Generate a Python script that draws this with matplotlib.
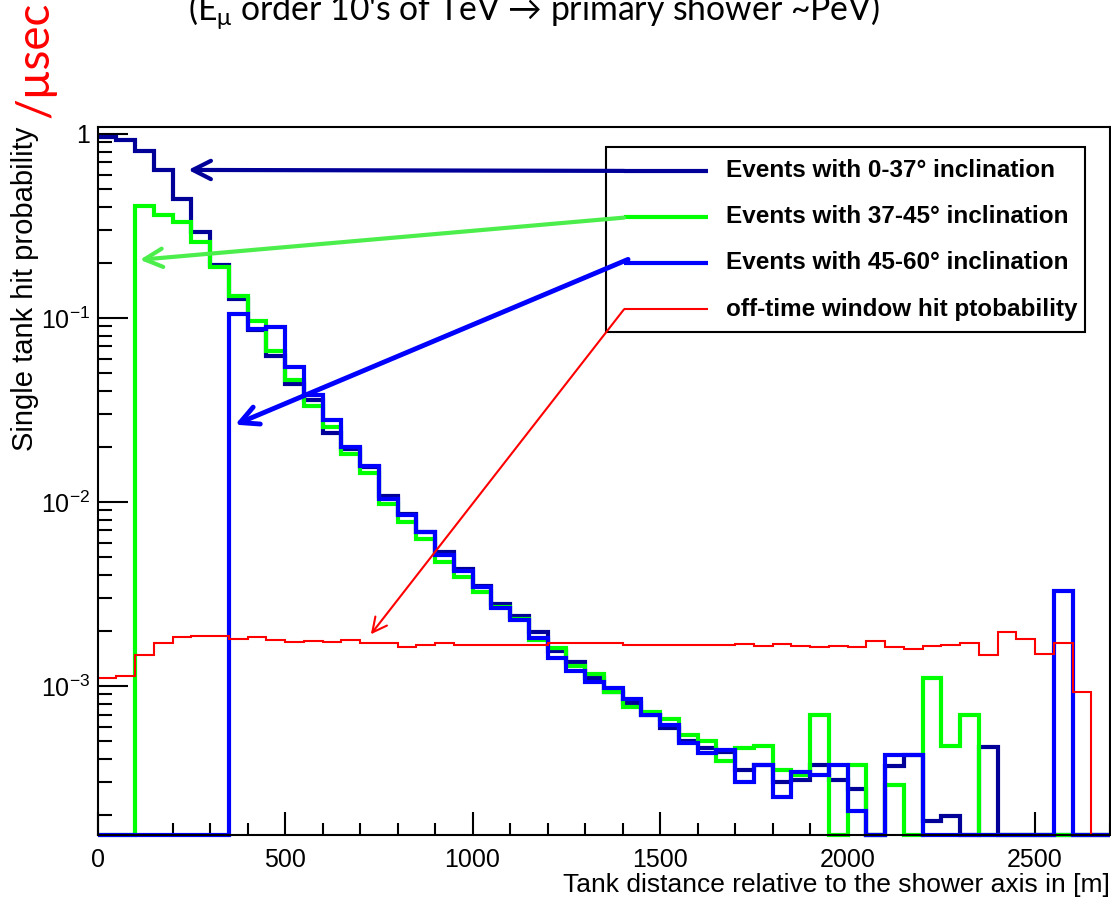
import numpy as np
import matplotlib
matplotlib.use("Agg")
import matplotlib.pyplot as plt
from matplotlib.ticker import MultipleLocator, FixedLocator, FixedFormatter, LogLocator, NullFormatter
from matplotlib.patches import Rectangle

plt.rcParams['font.family'] = ['Liberation Sans', 'DejaVu Sans']
plt.rcParams['mathtext.fontset'] = 'custom'
plt.rcParams['mathtext.rm'] = 'Liberation Sans'
plt.rcParams['mathtext.it'] = 'Liberation Sans:italic'
plt.rcParams['mathtext.bf'] = 'Liberation Sans:bold'
plt.rcParams['mathtext.default'] = 'regular'

# ---------------- data ----------------
bin_edges = np.arange(0, 2701, 50)   # 54 bins of 50 m

incl_0_37 = [0.96, 0.93, 0.81, 0.637, 0.445, 0.293, 0.193, 0.127, 0.086, 0.062,
             0.0437, 0.036, 0.0237, 0.0195, 0.0155, 0.0108, 0.0086, 0.0069, 0.00532, 0.0043,
             0.0035, 0.0028, 0.00239, 0.00197, 0.00154, 0.00135, 0.00110, 0.00093, 0.00081, 0.00070,
             0.00059, 0.00050, 0.00046, 0.00044, 0.00035, 0.00037, 0.00030, 0.00031, 0.00037, 0.00031,
             0.000275, 0, 0.000366, 0.00042, 0.000184, 0.000197, 0, 0.000465, 0, 0,
             0, 0, 0, 0]

incl_37_45 = [0, 0, 0.406, 0.363, 0.334, 0.257, 0.19, 0.132, 0.0967, 0.066,
              0.0459, 0.0331, 0.0255, 0.0183, 0.0143, 0.0098, 0.0078, 0.0063, 0.00474, 0.00393,
              0.00326, 0.0027, 0.0023, 0.00178, 0.00160, 0.00129, 0.00116, 0.00093, 0.00077, 0.00072,
              0.00066, 0.00054, 0.00050, 0.00039, 0.00046, 0.00047, 0.00035, 0.00033, 0.00070, 0,
              0.00037, 0, 0.00029, 0, 0.00111, 0.00047, 0.00070, 0, 0, 0,
              0, 0, 0, 0]

incl_45_60 = [0, 0, 0, 0, 0, 0, 0, 0.105, 0.087, 0.089,
              0.054, 0.038, 0.0279, 0.0199, 0.0157, 0.0104, 0.0085, 0.0069, 0.00516, 0.00422,
              0.00344, 0.00265, 0.00227, 0.00183, 0.00142, 0.00121, 0.00105, 0.00097, 0.00085, 0.00070,
              0.00061, 0.00049, 0.00043, 0.00045, 0.00030, 0.00037, 0.00025, 0.00034, 0.00033, 0.00037,
              0.00021, 0, 0.00042, 0.00042, 0, 0, 0, 0, 0, 0,
              0, 0.0033, 0, 0]

off_time = [0.00111, 0.00113, 0.00148, 0.00172, 0.00184, 0.00187, 0.00187, 0.00180, 0.00184, 0.00178,
            0.00173, 0.00175, 0.00173, 0.00178, 0.00171, 0.00171, 0.00162, 0.00168, 0.00171, 0.00167,
            0.00167, 0.00167, 0.00167, 0.00167, 0.00171, 0.00171, 0.00171, 0.00171, 0.00168, 0.00167,
            0.00167, 0.00167, 0.00167, 0.00167, 0.00169, 0.00165, 0.00169, 0.00165, 0.00162, 0.00165,
            0.00162, 0.00175, 0.00162, 0.00158, 0.00165, 0.00167, 0.00171, 0.00148, 0.00197, 0.00180,
            0.00150, 0.00171, 0.00093, 0]

series_labels = ["Events with 0-37° inclination",
                 "Events with 37-45° inclination",
                 "Events with 45-60° inclination",
                 "off-time window hit ptobability"]
series_colors = ["#000099", "#00ff00", "#0000ff", "#ff0000"]
arrow_colors = ["#000099", "#4cee4c", "#0000ff", "#ff0000"]
# arrow tips (distance [m], probability)
arrow_tip_x = [242, 113, 367, 729]
arrow_tip_y = [0.637, 0.207, 0.0263, 0.00191]

xticks = [0, 500, 1000, 1500, 2000, 2500]
yticks = [1e-3, 1e-2, 1e-1, 1]
ytick_labels = ["10$^{-3}$", "10$^{-2}$", "10$^{-1}$", "1"]

# ---------------- figure ----------------
W, H = 1111, 898
fig = plt.figure(figsize=(W / 100, H / 100), dpi=100)
ax = fig.add_axes([97.5 / W, 1 - 835 / H, (1110 - 97.5) / W, (835 - 127) / H])
ax.set_yscale('log')
ymin, ymax = 1.55e-4, 1.09
ax.set_xlim(0, 2700)
ax.set_ylim(ymin, ymax)

series = [incl_0_37, incl_37_45, incl_45_60, off_time]
widths = [3.0, 3.0, 3.0, 1.5]
for k, (vals, col, lw) in enumerate(zip(series, series_colors, widths)):
    v = np.asarray(vals, float)
    v = np.where(v > 0, v, ymin)
    ax.stairs(v, bin_edges, baseline=None, color=col, lw=lw, clip_on=False, zorder=2 + k)

# axes styling
for s in ax.spines.values():
    s.set_linewidth(1.5)
    s.set_zorder(10)
ax.xaxis.set_major_locator(FixedLocator(xticks))
ax.xaxis.set_minor_locator(MultipleLocator(100))
ax.yaxis.set_major_locator(FixedLocator(yticks))
ax.yaxis.set_major_formatter(FixedFormatter(ytick_labels))
ax.yaxis.set_minor_locator(LogLocator(base=10, subs=np.arange(2, 10)))
ax.yaxis.set_minor_formatter(NullFormatter())
ax.tick_params(which='both', direction='in', top=False, right=False, width=1.5, labelsize=18)
ax.tick_params(axis='x', which='major', length=16.5, pad=9.5)
ax.tick_params(axis='x', which='minor', length=8.5)
ax.tick_params(axis='y', which='major', length=21.5, pad=5.5)
ax.tick_params(axis='y', which='minor', length=10)

ax.set_xlabel("Tank distance relative to the shower axis in [m]", fontsize=19, loc='right')
ax.xaxis.set_label_coords(1.0, -0.054)
ax.set_ylabel("Single tank hit probability", fontsize=21, loc='top')
ax.yaxis.set_label_coords(-0.058, 1.0)

# legend box (drawn manually, ROOT style)
rows = [0.938, 0.873, 0.808, 0.7425]
ax.add_patch(Rectangle((0.502, 0.710), 0.473, 0.262, transform=ax.transAxes,
                       facecolor='white', edgecolor='black', lw=1.5, zorder=6))
for lab, col, lw, r in zip(series_labels, series_colors, widths, rows):
    ax.plot([0.520, 0.603], [r, r], transform=ax.transAxes, color=col, lw=lw, zorder=7,
            solid_capstyle='butt')
    ax.text(0.621, r, lab, transform=ax.transAxes, va='center', ha='left',
            fontsize=17.5, fontweight='bold', zorder=8)

# arrows from legend entries to the curves
arrow_lw = [3.0, 3.0, 3.5, 1.5]
arrow_ms = [20, 20, 20, 16]
tails = [(0.520, 0.938), (0.520, 0.872), (0.524, 0.813), (0.520, 0.7425)]
for tx, ty, col, lw, ms, tail in zip(arrow_tip_x, arrow_tip_y, arrow_colors, arrow_lw, arrow_ms, tails):
    ax.annotate('', xy=(tx, ty), xycoords='data', xytext=tail, textcoords='axes fraction',
                arrowprops=dict(arrowstyle='->,head_length=0.65,head_width=0.33', color=col,
                                lw=lw, shrinkA=0, shrinkB=0, mutation_scale=ms),
                zorder=9)

# slide fragments around the chart (partly cut off at the top edge, as in the source)
fig.text(188 / W, 1 - 21 / H, "(E$_{\\mu}$ order 10's of TeV \u2192 primary shower ~PeV)",
         ha='left', va='baseline', fontsize=24.3, family=['Lato', 'DejaVu Sans'])
fig.text(35 / W, 1 - 60 / H, "/\u00b5sec", rotation=90, color='red', fontsize=33,
         ha='center', va='center', family=['Lato', 'DejaVu Sans'])

fig.savefig("out.png", dpi=100)
